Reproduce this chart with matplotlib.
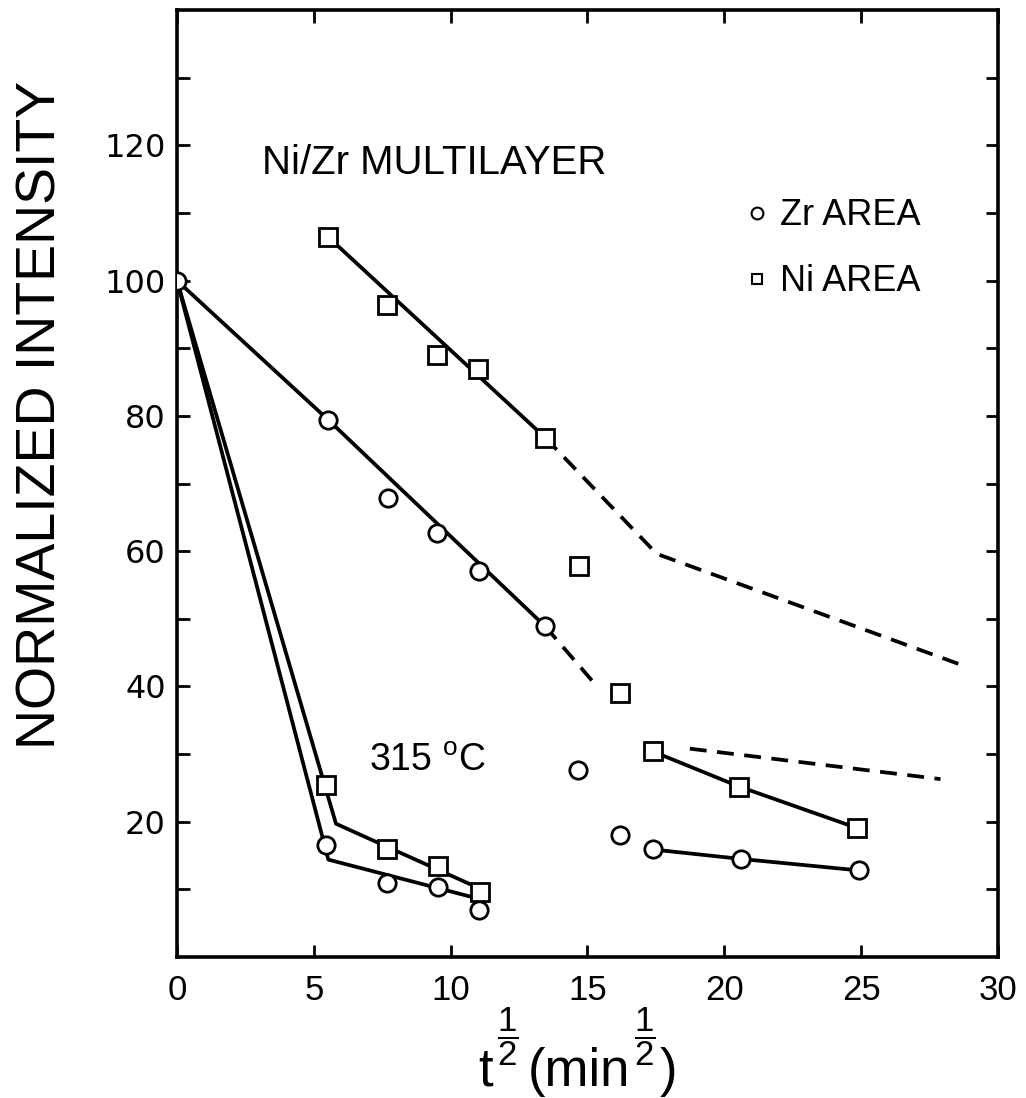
import matplotlib
matplotlib.use('Agg')
import matplotlib.pyplot as plt
from matplotlib.lines import Line2D

plt.rcParams['font.family'] = ['Liberation Sans', 'DejaVu Sans']
plt.rcParams['mathtext.fontset'] = 'custom'
plt.rcParams['mathtext.rm'] = 'Liberation Sans'
plt.rcParams['mathtext.it'] = 'Liberation Sans'

# measured points, upper set
zr_a_x = [0, 5.53, 7.72, 9.49, 11.04, 13.45, 14.65, 16.19, 17.38, 20.61, 24.93]
zr_a_y = [100, 79.4, 67.8, 62.7, 57.1, 48.9, 27.7, 18.0, 15.9, 14.5, 12.8]
ni_a_x = [5.51, 7.66, 9.49, 11.01, 13.45, 14.69, 16.19, 17.38, 20.54, 24.83]
ni_a_y = [106.5, 96.4, 89.0, 87.0, 76.8, 57.8, 39.1, 30.4, 25.2, 19.1]

# measured points, 315 C set
zr_b_x = [5.44, 7.66, 9.55, 11.04]
zr_b_y = [16.6, 11.0, 10.3, 6.9]
ni_b_x = [5.44, 7.66, 9.55, 11.07]
ni_b_y = [25.4, 15.9, 13.4, 9.6]

# solid guide lines
fit_ni_a_x = [5.51, 13.45]
fit_ni_a_y = [106.5, 76.8]
fit_zr_a_x = [0, 5.53, 13.45]
fit_zr_a_y = [100, 79.4, 48.9]
fit_ni_b_x = [0, 5.81, 11.13]
fit_ni_b_y = [100, 19.7, 10.0]
fit_zr_b_x = [0, 5.53, 11.13]
fit_zr_b_y = [100, 14.4, 8.5]
fit_ni_c_x = [17.38, 20.54, 24.83]
fit_ni_c_y = [30.4, 25.2, 19.1]
fit_zr_c_x = [17.38, 20.61, 24.93]
fit_zr_c_y = [15.9, 14.5, 12.8]

# dashed guide lines
dash_ni_a_x = [13.45, 17.53, 28.85]
dash_ni_a_y = [76.8, 59.6, 42.9]
dash_zr_a_x = [13.45, 15.2]
dash_zr_a_y = [48.9, 40.7]
dash_ni_c_x = [18.74, 27.9]
dash_ni_c_y = [30.8, 26.3]

fig = plt.figure(figsize=(10.26, 10.98), dpi=100)
ax = fig.add_axes([0.1725, 0.1284, 0.8002, 0.8625])

lw = 2.7
for xs, ys in [(fit_ni_a_x, fit_ni_a_y), (fit_zr_a_x, fit_zr_a_y),
               (fit_ni_b_x, fit_ni_b_y), (fit_zr_b_x, fit_zr_b_y),
               (fit_ni_c_x, fit_ni_c_y), (fit_zr_c_x, fit_zr_c_y)]:
    ax.plot(xs, ys, color='black', lw=lw, solid_capstyle='round', zorder=2)

for xs, ys in [(dash_ni_a_x, dash_ni_a_y), (dash_zr_a_x, dash_zr_a_y),
               (dash_ni_c_x, dash_ni_c_y)]:
    ax.plot(xs, ys, color='black', lw=lw, ls=(0, (4.5, 2.8)), zorder=2)

mk = dict(ls='none', mfc='white', mec='black', ms=12.5, mew=2.0, zorder=3)
ax.plot(zr_a_x, zr_a_y, marker='o', **mk)
ax.plot(zr_b_x, zr_b_y, marker='o', **mk)
ax.plot(ni_a_x, ni_a_y, marker='s', **mk)
ax.plot(ni_b_x, ni_b_y, marker='s', **mk)

ax.set_xlim(0, 30)
ax.set_ylim(0, 140)
ax.set_xticks([0, 5, 10, 15, 20, 25, 30])
ax.set_yticks([20, 40, 60, 80, 100, 120])
ax.set_yticks([10, 30, 50, 70, 90, 110, 130], minor=True)
ax.tick_params(which='both', direction='in', top=True, right=True,
               length=9, width=2)
ax.tick_params(axis='x', labelsize=25, pad=12)
ax.tick_params(axis='y', labelsize=23, pad=8)
for lab in ax.get_yticklabels():
    lab.set_family('DejaVu Sans')
for sp in ax.spines.values():
    sp.set_linewidth(2.6)

ax.text(3.1, 115.8, 'Ni/Zr MULTILAYER', fontsize=29, va='baseline')
ax.text(7.0, 27.5, r'315 $^{\mathregular{o}}$C', fontsize=27, va='baseline')

handles = [Line2D([], [], marker='o', ls='none', mfc='white', mec='black',
                  ms=8.5, mew=1.5, label='Zr AREA'),
           Line2D([], [], marker='s', ls='none', mfc='white', mec='black',
                  ms=7.5, mew=1.5, label='Ni AREA')]
ax.legend(handles=handles, loc='upper left', bbox_to_anchor=(0.695, 0.801),
          frameon=False, fontsize=26, handlelength=0.5, handletextpad=0.4,
          labelspacing=0.85, borderpad=0, borderaxespad=0)

fig.text(42 / 1026, 1 - 415 / 1098, 'NORMALIZED INTENSITY', rotation=90,
         ha='center', va='center', fontsize=40)

# x label: t^(1/2) (min^(1/2)), fractions raised like the original
base = (1098 - 1086) / 1098
half = r'$\dfrac{1}{2}$'
t_txt = fig.text(478 / 1026, base, 't', fontsize=38, va='baseline')
f1 = ax.annotate(half, xy=(1, base), xycoords=(t_txt, 'figure fraction'),
                 xytext=(3, 13), textcoords='offset points', fontsize=25,
                 va='bottom', ha='left', annotation_clip=False)
p1 = ax.annotate('(min', xy=(1, base), xycoords=(f1, 'figure fraction'),
                 xytext=(7, 0), textcoords='offset points', fontsize=38,
                 va='baseline', ha='left', annotation_clip=False)
f2 = ax.annotate(half, xy=(1, base), xycoords=(p1, 'figure fraction'),
                 xytext=(3, 13), textcoords='offset points', fontsize=25,
                 va='bottom', ha='left', annotation_clip=False)
ax.annotate(')', xy=(1, base), xycoords=(f2, 'figure fraction'),
            xytext=(3, 0), textcoords='offset points', fontsize=38,
            va='baseline', ha='left', annotation_clip=False)

fig.savefig('out.png', dpi=100)
